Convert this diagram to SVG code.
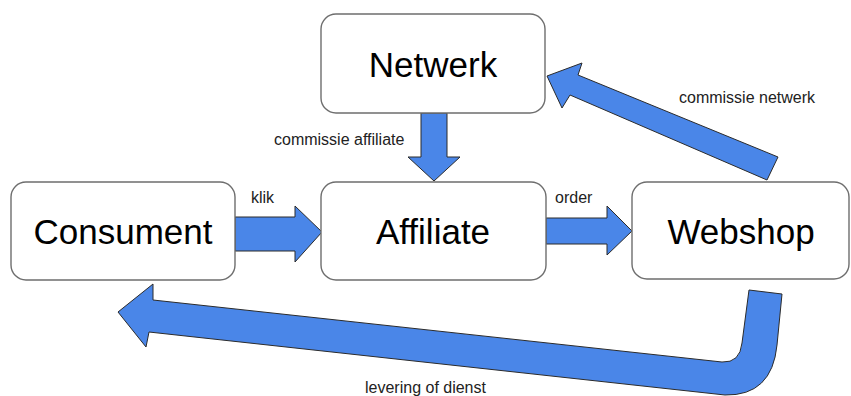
<svg xmlns="http://www.w3.org/2000/svg" width="851" height="396" viewBox="0 0 851 396">
<style>
.box{fill:#fff;stroke:#6e6e6e;stroke-width:1.4}
.lbl{font-family:"Liberation Sans",Arial,sans-serif;font-size:35px;fill:#000;text-anchor:middle}
.arr{fill:#4a86e8;stroke:#2b2b2b;stroke-width:1;stroke-linejoin:miter}
.t{font-family:"Liberation Sans",Arial,sans-serif;font-size:16px;fill:#222}
</style>
<rect width="851" height="396" fill="#fff"/>
<g id="connectors">
<polygon class="arr" points="421,113 447,113 447,157 460,157 434,181 408,157 421,157"/>
<polygon class="arr" points="235,217 295,217 295,206 322,232 295,262 295,251 235,251"/>
<polygon class="arr" points="546,218 607,218 607,206 632,231 607,255 607,244 546,244"/>
<polygon class="arr" points="767,180 778,157 578,75 582,63 547,76 562,108 570,95"/>
<path class="arr" d="M749,290 L782,294 L777,345 Q772,396 725,395 L149,332 L146,347 L118,312 L153,284 L153,300 L722,362 Q740,363 742,343 Z"/>
<text class="t" x="274" y="145">commissie affiliate</text>
<text class="t" x="679" y="103">commissie netwerk</text>
<text class="t" x="251" y="203">klik</text>
<text class="t" x="555" y="203">order</text>
<text class="t" x="365" y="393">levering of dienst</text>
</g>
<g id="netwerk">
<rect class="box" x="321" y="14" width="224" height="99" rx="15"/>
<text class="lbl" x="433" y="77">Netwerk</text>
</g>
<g id="consument">
<rect class="box" x="11" y="182" width="224" height="98" rx="15"/>
<text class="lbl" x="123" y="244">Consument</text>
</g>
<g id="affiliate">
<rect class="box" x="321" y="182" width="225" height="98" rx="15"/>
<text class="lbl" x="433" y="244">Affiliate</text>
</g>
<g id="webshop">
<rect class="box" x="632" y="182" width="217" height="97" rx="15"/>
<text class="lbl" x="741" y="244">Webshop</text>
</g>
</svg>
